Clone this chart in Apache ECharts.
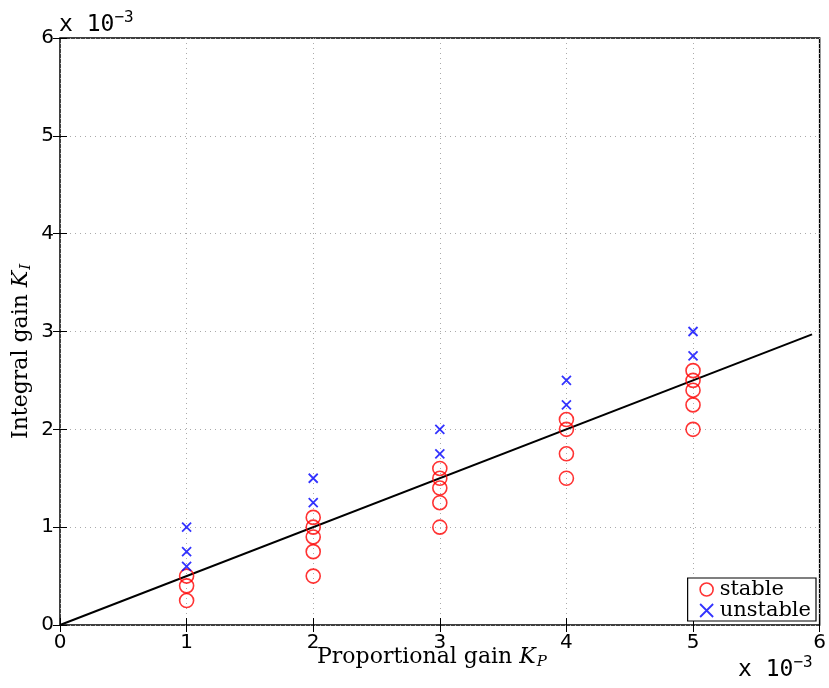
<!DOCTYPE html>
<html>
<head>
<meta charset="utf-8">
<script src="https://cdn.jsdelivr.net/npm/echarts@6/dist/echarts.min.js"></script>
<style>
  html, body { margin: 0; padding: 0; background: #fff; }
  #chart { width: 829px; height: 688px; }
</style>
</head>
<body>
<div id="chart"></div>
<script>
// values in units of 1e-3
const xTicks = [0, 1, 2, 3, 4, 5, 6];
const yTicks = [0, 1, 2, 3, 4, 5, 6];

const stableKp = [1, 1, 1, 2, 2, 2, 2, 2, 3, 3, 3, 3, 3, 4, 4, 4, 4, 5, 5, 5, 5, 5];
const stableKi = [0.25, 0.4, 0.5, 0.5, 0.75, 0.9, 1.0, 1.1, 1.0, 1.25, 1.4, 1.5, 1.6, 1.5, 1.75, 2.0, 2.1, 2.0, 2.25, 2.4, 2.5, 2.6];

const unstableKp = [1, 1, 1, 2, 2, 3, 3, 4, 4, 5, 5];
const unstableKi = [0.6, 0.75, 1.0, 1.25, 1.5, 1.75, 2.0, 2.25, 2.5, 2.75, 3.0];

const boundaryKp = [0, 5.94];
const boundaryKi = [0, 2.97];

const zip = (a, b) => a.map((v, i) => [v, b[i]]);

const chart = echarts.init(document.getElementById("chart"));

const tickFont = { fontFamily: "DejaVu Sans", fontSize: 20, color: "#000" };
const gridLine = { show: true, lineStyle: { color: "#aaa", type: [1, 4], width: 1 } };
const serif = "DejaVu Serif";

const crossPath = "path://M0,0L10,10M10,0L0,10";

// "x 10^-3" exponent label, used twice
const expo = {
    text: "{a|x 10}{s|−3}",
    rich: {
        a: { fontFamily: "DejaVu Sans Mono", fontSize: 23, color: "#000" },
        s: { fontFamily: "DejaVu Sans Mono", fontSize: 16, color: "#000", verticalAlign: "top", padding: [0, 0, 14, 0] },
    },
};

const titleRich = {
    a: { fontFamily: serif, fontSize: 22, color: "#000" },
    k: { fontFamily: serif, fontStyle: "italic", fontSize: 22, color: "#000" },
    sub: { fontFamily: serif, fontStyle: "italic", fontSize: 15, color: "#000", padding: [11, 0, 0, 1] },
};

const option = {
    animation: false,
    grid: { left: 60, right: 9, top: 38, bottom: 63, show: true, borderColor: "#000", borderWidth: 1.5 },
    xAxis: [
        {
            type: "value", min: 0, max: 6, interval: 1,
            axisLine: { show: false },
            axisTick: { inside: true, length: 7, lineStyle: { color: "#000" } },
            axisLabel: Object.assign({ margin: 8, formatter: (v) => xTicks.includes(v) ? String(v) : "" }, tickFont),
            splitLine: gridLine,
        },
        {
            type: "value", min: 0, max: 6, interval: 1, position: "top",
            axisLine: { show: false },
            axisTick: { inside: true, length: 7, lineStyle: { color: "#000" } },
            axisLabel: { show: false }, splitLine: { show: false },
        },
    ],
    yAxis: [
        {
            type: "value", min: 0, max: 6, interval: 1,
            axisLine: { show: false },
            axisTick: { inside: true, length: 7, lineStyle: { color: "#000" } },
            axisLabel: Object.assign({ margin: 6, formatter: (v) => yTicks.includes(v) ? String(v) : "" }, tickFont),
            splitLine: gridLine,
        },
        {
            type: "value", min: 0, max: 6, interval: 1, position: "right",
            axisLine: { show: false },
            axisTick: { inside: true, length: 7, lineStyle: { color: "#000" } },
            axisLabel: { show: false }, splitLine: { show: false },
        },
    ],
    legend: {
        right: 13, bottom: 67, orient: "vertical",
        backgroundColor: "#fff", borderColor: "#000", borderWidth: 1.2, borderRadius: 0,
        padding: [1, 5, 0, 10], itemGap: 0, itemWidth: 16, itemHeight: 13,
        textStyle: { fontFamily: serif, fontSize: 21, color: "#000", lineHeight: 21 },
        data: [
            { name: "stable", icon: "circle", itemStyle: { color: "none", borderColor: "#f00", borderWidth: 1.6 } },
            { name: "unstable", icon: crossPath, itemStyle: { color: "none", borderColor: "#00f", borderWidth: 1.8 } },
        ],
    },
    series: [
        {
            name: "boundary", type: "line", data: zip(boundaryKp, boundaryKi), symbol: "none",
            lineStyle: { color: "#000", width: 2 }, z: 3,
        },
        {
            name: "stable", type: "scatter", data: zip(stableKp, stableKi), symbol: "circle", symbolSize: 14,
            itemStyle: { color: "none", borderColor: "#f00", borderWidth: 1.6 }, z: 4,
        },
        {
            name: "unstable", type: "scatter", data: zip(unstableKp, unstableKi), symbol: crossPath, symbolSize: 9,
            itemStyle: { color: "none", borderColor: "#00f", borderWidth: 1.8 }, z: 4,
        },
    ],
    graphic: [
        { type: "text", left: 59, top: 10, style: expo },
        { type: "text", left: 738, top: 655, style: expo },
        {
            type: "text", left: 317, top: 646,
            style: { text: "{a|Proportional gain }{k|K}{sub|P}", rich: titleRich },
        },
        {
            type: "text", x: 8, y: 439, rotation: Math.PI / 2,
            style: { text: "{a|Integral gain }{k|K}{sub|I}", rich: titleRich },
        },
    ],
};

chart.setOption(option);
</script>
</body>
</html>
